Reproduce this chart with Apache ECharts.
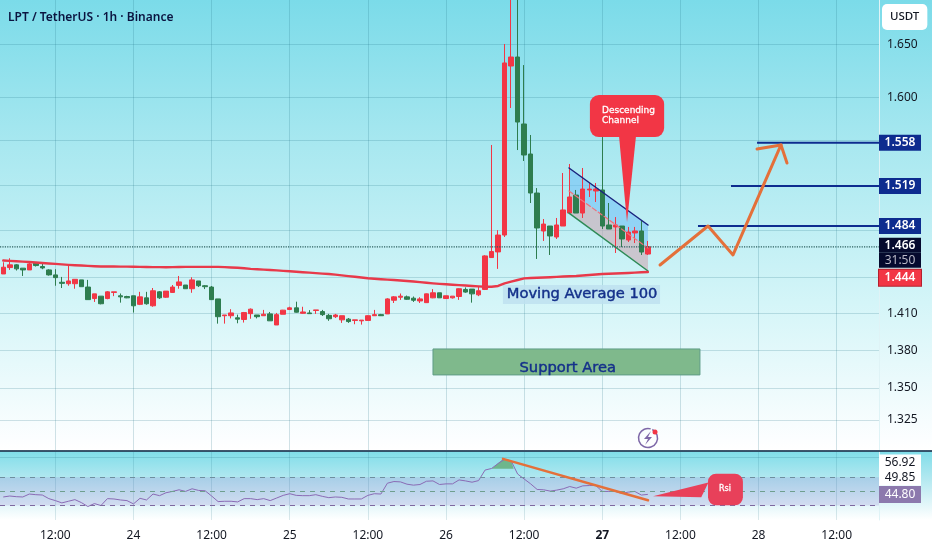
<!DOCTYPE html>
<html><head><meta charset="utf-8">
<style>html,body{margin:0;padding:0;background:#fff}#c{width:932px;height:550px}</style>
<script src="https://cdn.jsdelivr.net/npm/echarts@6/dist/echarts.min.js"></script>
</head><body><div id="c"></div>
<script>
const opens=[1.4429,1.4483,1.4506,1.4478,1.4463,1.4520,1.4492,1.4463,1.4421,1.4359,1.4347,1.4347,1.4379,1.4319,1.4223,1.4243,1.4223,1.4274,1.4246,1.4240,1.4246,1.4175,1.4229,1.4163,1.4279,1.4234,1.4274,1.4333,1.4336,1.4305,1.4370,1.4330,1.4319,1.4220,1.4081,1.4081,1.4064,1.4050,1.4098,1.4087,1.4081,1.4096,1.4005,1.4093,1.4132,1.4146,1.4101,1.4104,1.4124,1.4115,1.4084,1.4073,1.4047,1.4053,1.4042,1.4039,1.4042,1.4081,1.4090,1.4096,1.4209,1.4234,1.4237,1.4226,1.4203,1.4189,1.4229,1.4271,1.4223,1.4229,1.4240,1.4299,1.4302,1.4254,1.4299,1.4568,1.4616,1.4761,1.6294,1.6380,1.5751,1.5477,1.5128,1.4796,1.4839,1.4744,1.4839,1.4952,1.5110,1.4952,1.5155,1.5146,1.5155,1.4848,1.4831,1.4839,1.4718,1.4779,1.4796,1.4598];
const closes=[1.4486,1.4506,1.4472,1.4463,1.4514,1.4500,1.4480,1.4421,1.4398,1.4350,1.4370,1.4384,1.4322,1.4214,1.4262,1.4180,1.4279,1.4279,1.4237,1.4229,1.4163,1.4237,1.4180,1.4288,1.4229,1.4285,1.4319,1.4362,1.4305,1.4379,1.4330,1.4322,1.4214,1.4073,1.4087,1.4104,1.4053,1.4107,1.4135,1.4073,1.4093,1.4039,1.4090,1.4127,1.4146,1.4110,1.4112,1.4098,1.4129,1.4090,1.4056,1.4087,1.4081,1.4033,1.4047,1.4045,1.4081,1.4090,1.4081,1.4220,1.4237,1.4243,1.4217,1.4209,1.4220,1.4262,1.4271,1.4229,1.4246,1.4243,1.4305,1.4277,1.4262,1.4288,1.4582,1.4619,1.4761,1.6323,1.6380,1.5769,1.5468,1.5128,1.4822,1.4856,1.4753,1.4848,1.4979,1.5093,1.4952,1.5163,1.5163,1.5163,1.4839,1.4813,1.4848,1.4727,1.4787,1.4796,1.4615,1.4660];
const lows=[1.4429,1.4463,1.4458,1.4412,1.4463,1.4492,1.4469,1.4415,1.4330,1.4311,1.4330,1.4305,1.4322,1.4214,1.4195,1.4175,1.4217,1.4243,1.4189,1.4226,1.4107,1.4169,1.4172,1.4155,1.4220,1.4229,1.4271,1.4305,1.4305,1.4271,1.4319,1.4302,1.4212,1.4016,1.4016,1.4059,1.4019,1.4025,1.4056,1.4059,1.4079,1.4039,1.4005,1.4093,1.4129,1.4107,1.4098,1.4096,1.4096,1.4079,1.4039,1.4062,1.4022,1.4022,1.4011,1.4008,1.4039,1.4079,1.4079,1.4096,1.4186,1.4212,1.4212,1.4195,1.4186,1.4186,1.4226,1.4229,1.4220,1.4223,1.4212,1.4271,1.4189,1.4243,1.4294,1.4565,1.4472,1.4744,1.5899,1.5513,1.5414,1.5040,1.4556,1.4710,1.4590,1.4727,1.4839,1.4952,1.4952,1.4909,1.5093,1.5049,1.4813,1.4813,1.4607,1.4658,1.4701,1.4692,1.4590,1.4590];
const highs=[1.4528,1.4562,1.4512,1.4478,1.4526,1.4526,1.4520,1.4469,1.4469,1.4404,1.4506,1.4384,1.4379,1.4379,1.4262,1.4243,1.4285,1.4279,1.4265,1.4246,1.4246,1.4279,1.4279,1.4311,1.4285,1.4285,1.4336,1.4412,1.4336,1.4401,1.4370,1.4336,1.4328,1.4220,1.4087,1.4135,1.4090,1.4112,1.4141,1.4087,1.4129,1.4112,1.4104,1.4129,1.4155,1.4197,1.4155,1.4127,1.4129,1.4129,1.4096,1.4096,1.4081,1.4062,1.4047,1.4045,1.4084,1.4129,1.4096,1.4226,1.4243,1.4265,1.4248,1.4240,1.4234,1.4265,1.4302,1.4271,1.4246,1.4243,1.4308,1.4316,1.4302,1.4328,1.4588,1.5559,1.4803,1.6505,1.7000,1.7200,1.6303,1.5650,1.5172,1.4900,1.4839,1.4909,1.5306,1.5387,1.5155,1.5351,1.5217,1.5217,1.5631,1.5040,1.4917,1.4839,1.4831,1.4831,1.4883,1.4710];
const ma100=[1.4543,1.4540,1.4537,1.4533,1.4530,1.4526,1.4522,1.4518,1.4514,1.4510,1.4506,1.4503,1.4500,1.4497,1.4494,1.4492,1.4492,1.4492,1.4491,1.4491,1.4490,1.4489,1.4488,1.4487,1.4487,1.4486,1.4487,1.4488,1.4489,1.4489,1.4489,1.4489,1.4489,1.4489,1.4487,1.4484,1.4481,1.4477,1.4472,1.4469,1.4466,1.4463,1.4459,1.4455,1.4452,1.4448,1.4444,1.4440,1.4436,1.4432,1.4429,1.4423,1.4417,1.4411,1.4405,1.4399,1.4393,1.4389,1.4385,1.4381,1.4378,1.4374,1.4370,1.4365,1.4360,1.4355,1.4350,1.4346,1.4342,1.4338,1.4335,1.4332,1.4328,1.4325,1.4322,1.4322,1.4328,1.4350,1.4364,1.4378,1.4392,1.4395,1.4397,1.4399,1.4401,1.4404,1.4407,1.4410,1.4412,1.4416,1.4420,1.4425,1.4429,1.4431,1.4433,1.4435,1.4437,1.4440,1.4443,1.4446];
const rsi=[44.03,44.32,44.12,44.03,44.90,44.71,44.61,43.54,42.96,42.28,42.76,43.25,42.37,41.21,42.08,41.50,43.54,43.44,43.15,42.96,41.99,43.64,43.15,44.90,44.42,45.29,45.68,46.16,45.68,46.46,45.97,45.87,44.32,42.67,42.76,42.76,42.57,43.54,43.54,43.25,43.54,42.96,43.73,44.51,45.00,44.51,44.42,44.42,44.71,44.22,43.83,44.03,43.93,43.44,43.44,43.44,44.51,45.00,44.90,48.11,48.60,48.50,47.82,47.53,47.72,48.69,48.79,47.72,47.91,47.91,49.08,48.79,48.40,48.88,52.00,52.47,53.93,55.19,54.71,50.82,49.36,47.91,46.25,46.16,45.77,46.06,46.45,47.13,46.64,47.32,47.42,47.42,45.67,45.67,45.67,45.09,45.48,45.67,44.60,44.80];
const timeTicks=[8,20,32,44,56,68,80,92,104,116,128];
const timeLabels=['12:00','24','12:00','25','12:00','26','12:00','27','12:00','28','12:00'];
const priceGrid=[1.65,1.6,1.56,1.52,1.48,1.44,1.41,1.38,1.35,1.325];
const priceLabels=[1.65,1.6,1.41,1.38,1.35,1.325];
const lastPrice=1.466, maLast=1.444;
const targets=[[115.77,1.558],[111.77,1.519],[106.7,1.484]];
const arrowPath=[[100.87,1.4505],[108.24,1.4839],[112.08,1.4590],[119.45,1.5559]];
const arrowHead=[[115.77,1.5522],[119.45,1.5559],[120.37,1.5396]];
const chanTop=[[86.89,1.5351],[99.02,1.4848]];
const chanMid=[[86.89,1.5146],[99.02,1.4649]];
const chanBot=[[86.89,1.4952],[99.02,1.4454]];
const supportBox=[[66.0,1.3810],[107.0,1.3602]];
const maBox=[[76.75,1.4336],[100.87,1.4178]];
const calloutBox=[[90.1,1.6020],[101.5,1.5631]];
const calloutTail=[[94.57,1.5641],[97.18,1.5641],[95.8,1.4874]];
const rsiBands=[49.85,45.59,41.5];
const rsiTrend=[[76.75,55.3],[99.02,43.05]];
const rsiFill=[[75,52.4],[76.7,55.2],[78,54.7],[78.4,52.4]];
const rsiBox=[[108.24,50.92],[113.6,41.59]];
const rsiTail=[[108.3,48.3],[99.79,44.22],[107.2,43.93]];
const candleData=opens.map((o,i)=>[i,o,closes[i],lows[i],highs[i]]);
const idx=a=>a.map((v,i)=>[i,v]);
const AX='#131722', FONT='"Noto Sans"', ANN='"DejaVu Sans"';
const axes={xAxisIndex:0,yAxisIndex:0}, axes2={xAxisIndex:1,yAxisIndex:1};
function line(name,data,color,width,extra,ax){return Object.assign({name,type:'line',data,symbol:'none',silent:true,animation:false,lineStyle:Object.assign({color,width,cap:'round',join:'round'},extra||{}),z:6},ax||axes);}
function poly(pts,fill,z,ax){return Object.assign({type:'custom',silent:true,animation:false,z,data:[pts[0]],renderItem:(p,api)=>({type:'polygon',shape:{points:pts.map(q=>api.coord(q))},style:{fill}})},ax||axes);}
function rbox(b,fill,r,z,ax,extra){return Object.assign({type:'custom',silent:true,animation:false,z,data:[b[0]],renderItem:(p,api)=>{const a=api.coord(b[0]),c=api.coord(b[1]);return {type:'rect',shape:{x:a[0],y:a[1],width:c[0]-a[0],height:c[1]-a[1],r},style:Object.assign({fill},extra||{})};}},ax||axes);}
function txt(x,y,text,color,font,align,z,ax,extra){return Object.assign({type:'custom',silent:true,animation:false,z,data:[[x,y]],renderItem:(p,api)=>{const a=api.coord([x,y]);return {type:'text',x:a[0],y:a[1],style:Object.assign({text,fill:color,font,align:align,verticalAlign:'middle',lineHeight:10},extra||{})};}},ax||axes);}
function tag(val,fmt,rich,dy,ax){return Object.assign({type:'scatter',symbolSize:0,silent:true,animation:false,z:20,itemStyle:{opacity:1},data:[[134.5,val]],label:{show:true,opacity:1,position:'right',distance:0,offset:[0,dy||0],formatter:fmt,rich}},ax||axes);}
const tagBlue={a:{width:42,height:16,lineHeight:16,align:'center',backgroundColor:'#0d2c8f',color:'#fff',fontFamily:FONT,fontSize:12,fontWeight:600}};
const heavy={stroke:'#14308a',lineWidth:0.45};
const option={
 animation:false,
 backgroundColor:{type:'linear',x:0,y:0,x2:0,y2:1,colorStops:[{offset:0,color:'#7bdbe9'},{offset:0.27,color:'#a9e8f0'},{offset:0.55,color:'#d4f5f8'},{offset:0.8,color:'#fcfeff'},{offset:0.818,color:'#ffffff'},{offset:0.82,color:'#7fdde9'},{offset:0.87,color:'#b2e8f0'},{offset:0.945,color:'#ffffff'},{offset:1,color:'#ffffff'}]},
 title:[{text:'LPT / TetherUS · 1h · Binance',left:3,top:7,textStyle:{fontFamily:FONT,fontSize:12,fontWeight:600,color:'#0b1440'}},
        {text:'USDT',left:882,top:4,padding:[7,8,7,8],backgroundColor:'#fff',borderRadius:5,textStyle:{fontFamily:FONT,fontSize:11.5,fontWeight:500,color:AX}}],
 grid:[{left:0,top:0,width:879,height:450},{left:0,top:452,width:879,height:68}],
 xAxis:[
  {type:'value',gridIndex:0,min:-0.5,max:134.5,axisLine:{show:false},axisTick:{show:false,customValues:timeTicks},axisLabel:{show:false},splitLine:{show:true,lineStyle:{color:'rgba(30,110,130,0.2)',width:1}}},
  {type:'value',gridIndex:1,min:-0.5,max:134.5,axisLine:{show:false},axisTick:{show:false,customValues:timeTicks},
   axisLabel:{show:true,customValues:timeTicks,margin:10,color:AX,fontFamily:FONT,fontSize:12,hideOverlap:false,showMinLabel:true,showMaxLabel:true,
    formatter:v=>{const s=timeLabels[timeTicks.indexOf(v)];return s==='27'?'{b|27}':s;},rich:{b:{fontWeight:700,color:AX,fontFamily:FONT,fontSize:12}}},
   splitLine:{show:true,lineStyle:{color:'rgba(30,110,130,0.16)',width:1}}}],
 yAxis:[
  {type:'log',logBase:10,gridIndex:0,position:'right',min:1.3018,max:1.6935,axisLine:{show:true,onZero:false,lineStyle:{color:'#dff3f6',width:1}},axisTick:{show:false,customValues:priceGrid},
   axisLabel:{customValues:priceLabels,margin:8,color:AX,fontFamily:FONT,fontSize:12,formatter:v=>Number(v).toFixed(3),showMinLabel:true,showMaxLabel:true},
   splitLine:{show:true,lineStyle:{color:'rgba(30,110,130,0.2)',width:1}}},
  {type:'value',gridIndex:1,position:'right',min:37.22,max:57.34,axisLine:{show:true,onZero:false,lineStyle:{color:'#dff3f6',width:1}},axisTick:{show:false,customValues:[55.67]},axisLabel:{show:false},
   splitLine:{show:true,lineStyle:{color:'rgba(30,110,130,0.2)',width:1}}}],
 graphic:[
  {type:'line',shape:{x1:0,y1:451,x2:932,y2:451},style:{stroke:'#17233f',lineWidth:1.5},z:30,silent:true},
  {type:'arc',shape:{cx:648,cy:438,r:9.5,startAngle:-1.1,endAngle:5.0},style:{stroke:'#7e68a8',fill:'none',lineWidth:1.5},z:30,silent:true},
  {type:'polygon',shape:{points:[[651,431],[644,439],[648,439],[645,445],[652,437],[648,437]]},style:{fill:'#7e68a8'},z:30,silent:true},
  {type:'circle',shape:{cx:655,cy:432,r:2.5},style:{fill:'#f23645'},z:31,silent:true}
 ],
 series:[
  poly([chanTop[0],chanTop[1],chanMid[1],chanMid[0]],'rgba(110,190,245,0.55)',1),
  poly([chanMid[0],chanMid[1],chanBot[1],chanBot[0]],'rgba(205,170,180,0.6)',1),
  Object.assign({type:'candlestick',data:candleData,barWidth:5,silent:true,animation:false,z:3,itemStyle:{color:'#f23645',borderColor:'#f23645',color0:'#2e7d4f',borderColor0:'#2e7d4f',borderWidth:1}},axes),
  line('channel-top',chanTop,'#1a237e',1.5),
  line('channel-mid',chanMid,'#f0707a',1.2,{type:'dashed'}),
  line('channel-bot',chanBot,'#2e8b57',1.5),
  line('MA100',idx(ma100),'#e8394a',2.4),
  line('last',[[-0.5,lastPrice],[134.5,lastPrice]],'#2a5e5e',1.2,{type:'dotted',cap:'butt'}),
  ...targets.map((t,i)=>line('target'+i,[t,[134.5,t[1]]],'#0d2c8f',2,{cap:'butt'})),
  line('arrow',arrowPath,'#e4703a',3),
  line('arrowhead',arrowHead,'#e4703a',3),
  rbox(supportBox,'#7fb98c',0,2,axes,{stroke:'#5f9c86',lineWidth:1}),
  txt(86.7,1.3658,'Support Area','#14308a','14.7px '+ANN,'center',7,axes,heavy),
  rbox(maBox,'rgba(190,225,240,0.85)',0,5),
  txt(88.9,1.4261,'Moving Average 100','#14308a','14.7px '+ANN,'center',7,axes,heavy),
  poly(calloutTail,'#f23645',8),
  rbox(calloutBox,'#f23645',9,8),
  txt(91.96,1.5825,'Descending\nChannel','#fff','9px '+ANN,'left',9,axes,{stroke:'#fff',lineWidth:0.3}),
  ...targets.map(t=>tag(t[1],'{a|'+t[1].toFixed(3)+'}',tagBlue)),
  tag(lastPrice,'{a|'+lastPrice.toFixed(3)+'}\n{b|31:50}',{a:{width:42,height:15,lineHeight:15,align:'center',backgroundColor:'#050a2e',color:'#fff',fontFamily:FONT,fontSize:12,fontWeight:600},b:{width:42,height:15,lineHeight:15,align:'center',backgroundColor:'#050a2e',color:'#b9b9c8',fontFamily:FONT,fontSize:12}},6),
  tag(maLast,'{a|'+maLast.toFixed(3)+'}',{a:{width:42,height:16,lineHeight:16,align:'center',backgroundColor:'#f23645',color:'#fff',fontFamily:FONT,fontSize:12,fontWeight:600,borderColor:'#b5202e',borderWidth:1}},5),
  Object.assign({type:'line',name:'RSI',data:idx(rsi),symbol:'none',silent:true,animation:false,z:4,lineStyle:{color:'#8a6bb5',width:1},
    markArea:{silent:true,itemStyle:{color:'rgba(126,87,194,0.17)'},data:[[{yAxis:rsiBands[0]},{yAxis:rsiBands[2]}]]},
    markLine:{silent:true,symbol:'none',animation:false,label:{show:false},data:[
      {yAxis:rsiBands[0],lineStyle:{color:'#6f8f9f',type:[5,5],width:1}},
      {yAxis:rsiBands[1],lineStyle:{color:'#6f9f8f',type:[5,5],width:1}},
      {yAxis:rsiBands[2],lineStyle:{color:'#7e689f',type:[5,5],width:1}}]}},axes2),
  poly(rsiFill,'#6eb68c',3,axes2),
  line('rsi-trend',rsiTrend,'#e4703a',2.5,{},axes2),
  poly(rsiTail,'#e8405a',8,axes2),
  rbox(rsiBox,'#e8405a',8,8,axes2),
  txt(110.85,46.55,'Rsi','#fff','8px '+ANN,'center',9,axes2,{stroke:'#fff',lineWidth:0.3}),
  tag(56.92,'{a|56.92}',{a:{width:42,height:16,lineHeight:16,align:'center',backgroundColor:'#fff',color:AX,fontFamily:FONT,fontSize:12}},9,axes2),
  tag(49.85,'{a|49.85}',{a:{width:42,height:17,lineHeight:17,align:'center',backgroundColor:'#fff',color:AX,fontFamily:FONT,fontSize:12}},0,axes2),
  tag(44.80,'{a|44.80}',{a:{width:42,height:17,lineHeight:17,align:'center',backgroundColor:'#8c79ad',color:'#fff',fontFamily:FONT,fontSize:12}},0,axes2)
 ]
};
const chart=echarts.init(document.getElementById('c'),null,{renderer:'canvas',width:932,height:550});
chart.setOption(option);
</script></body></html>
